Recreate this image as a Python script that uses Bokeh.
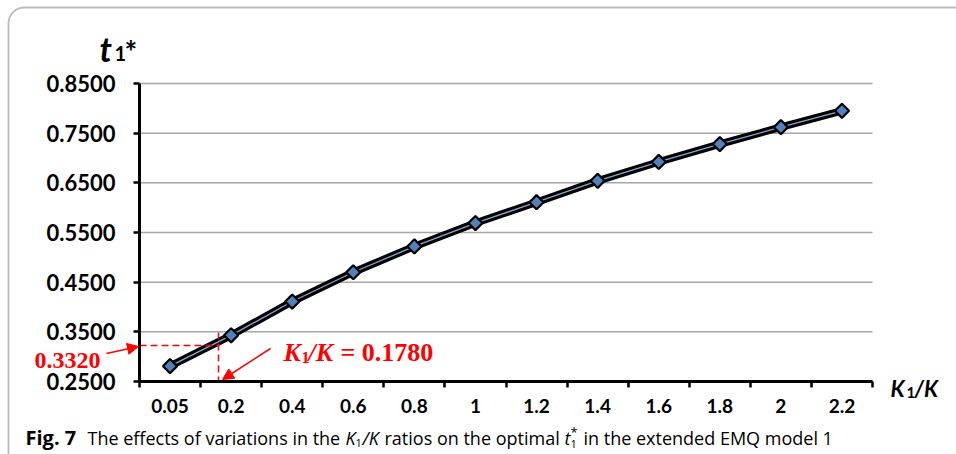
from bokeh.plotting import figure
from bokeh.models import (FixedTicker, Label, Arrow, NormalHead, BoxAnnotation,
                          Range1d, PrintfTickFormatter, LinearAxis)
from bokeh.embed import file_html
from bokeh.resources import INLINE

# ---------------- data ----------------
ratio_labels = ["0.05", "0.2", "0.4", "0.6", "0.8", "1", "1.2", "1.4", "1.6", "1.8", "2", "2.2"]
t1_values = [0.281, 0.343, 0.411, 0.470, 0.522, 0.569, 0.611, 0.654, 0.692, 0.728, 0.762, 0.795]
y_ticks = [0.25, 0.35, 0.45, 0.55, 0.65, 0.75, 0.85]
opt_ratio_text = "0.1780"
opt_t1_text = "0.3320"

# ---------------- layout ----------------
W, H = 956, 454
L, R, T, B = 139, 872, 83, 381          # pixel box of the chart area
N = len(ratio_labels)
XMIN, XMAX = -0.5, N - 0.5
YMIN, YMAX = y_ticks[0], y_ticks[-1]


def dx(px):
    return XMIN + (px - L) / (R - L) * (XMAX - XMIN)


def dy(py):
    return YMIN + (B - py) / (B - T) * (YMAX - YMIN)


xs = list(range(N))

p = figure(width=W, height=H, x_range=Range1d(dx(0), dx(W)), y_range=Range1d(dy(H), dy(0)),
           output_backend="svg", toolbar_location=None, x_axis_location=None, y_axis_location=None,
           min_border_left=0, min_border_right=0, min_border_top=0, min_border_bottom=0)
p.outline_line_color = None
p.background_fill_color = "white"
p.border_fill_color = "white"
p.xgrid.visible = False
p.ygrid.visible = False

# horizontal gridlines (drawn from the tick values)
p.segment(x0=[XMIN] * len(y_ticks), y0=y_ticks, x1=[XMAX] * len(y_ticks), y1=y_ticks,
          line_color="#a6a6a6", line_width=1.5)

# x axis
xaxis = LinearAxis(fixed_location=YMIN, bounds=(XMIN, XMAX))
xaxis.ticker = FixedTicker(ticks=xs, minor_ticks=[i - 0.5 for i in range(N + 1)])
xaxis.major_label_overrides = {i: lab for i, lab in enumerate(ratio_labels)}
xaxis.major_tick_line_color = None
xaxis.minor_tick_line_color = "black"
xaxis.minor_tick_line_width = 2.5
xaxis.minor_tick_out = 6
xaxis.minor_tick_in = 0
xaxis.axis_line_width = 3
xaxis.axis_line_color = "black"
xaxis.major_label_text_font = "Lato"
xaxis.major_label_text_font_style = "bold"
xaxis.major_label_text_font_size = "19px"
xaxis.major_label_text_color = "black"
xaxis.major_label_standoff = 11
p.add_layout(xaxis, "below")

# y axis
yaxis = LinearAxis(fixed_location=XMIN, bounds=(YMIN, YMAX))
yaxis.ticker = FixedTicker(ticks=y_ticks)
yaxis.formatter = PrintfTickFormatter(format="%.4f")
yaxis.major_tick_out = 6
yaxis.major_tick_in = 0
yaxis.major_tick_line_width = 2.5
yaxis.minor_tick_line_color = None
yaxis.axis_line_width = 3
yaxis.axis_line_color = "black"
yaxis.major_label_text_font = "Lato"
yaxis.major_label_text_font_style = "bold"
yaxis.major_label_text_font_size = "22px"
yaxis.major_label_text_color = "black"
yaxis.major_label_standoff = 18
p.add_layout(yaxis, "left")

# series
p.line(xs, t1_values, line_color="black", line_width=7.5)
p.line(xs, t1_values, line_color="#8aa6cf", line_width=1.3)
p.scatter(xs, t1_values, marker="square", angle=0.785398, size=10,
          fill_color="#4f81bd", line_color="black", line_width=2.2)

# red annotation lines
p.segment(x0=[dx(139)], y0=[dy(345)], x1=[dx(218)], y1=[dy(345)],
          line_color="red", line_width=1.5, line_dash="7 4")
p.segment(x0=[dx(218)], y0=[dy(332)], x1=[dx(218)], y1=[dy(381)],
          line_color="red", line_width=1.5, line_dash="7 4")

p.add_layout(Arrow(x_start=dx(106), y_start=dy(353), x_end=dx(138), y_end=dy(346),
                   line_color="red", line_width=1.5,
                   end=NormalHead(size=11, fill_color="red", line_color="red")))
p.add_layout(Arrow(x_start=dx(270), y_start=dy(348), x_end=dx(222), y_end=dy(379),
                   line_color="red", line_width=1.5,
                   end=NormalHead(size=11, fill_color="red", line_color="red")))


def lab(text, px, py, size, font="Lato", style="normal", color="black", align="left"):
    p.add_layout(Label(x=dx(px), y=dy(py), text=text, text_font=font, text_font_style=style,
                       text_font_size=size, text_color=color, text_align=align,
                       text_baseline="alphabetic"))


SERIF = "Liberation Serif"
# red texts
lab(opt_t1_text, 34, 360, "24px", SERIF, "bold", "red")
lab("K", 283, 352, "26px", SERIF, "bold italic", "red")
lab("1", 301, 357, "16px", SERIF, "bold", "red")
lab("/K", 308, 352, "26px", SERIF, "bold italic", "red")
lab("= " + opt_ratio_text, 340, 352, "26px", SERIF, "bold", "red")

# y title t1*
lab("t", 99, 48, "34px", "Lato", "bold italic")
lab("1", 114, 53, "20px", "Lato", "bold")
lab("*", 124, 50, "30px", "Lato", "bold")

# x title K1/K
lab("K", 890, 388, "22px", "Lato", "bold italic")
lab("1", 906, 392, "15px", "Lato", "bold")
lab("/K", 914, 388, "22px", "Lato", "bold italic")

# caption
CAP = "Open Sans"
lab("Fig. 7", 25, 437, "20px", CAP, "bold")
lab("The effects of variations in the", 87, 437, "18px", CAP)
lab("K", 345, 437, "18px", CAP, "italic")
lab("1", 355, 442, "11px", CAP)
lab("/K", 362, 437, "18px", CAP, "italic")
lab("ratios on the optimal", 384, 437, "18px", CAP)
lab("t", 564, 437, "18px", CAP, "italic")
lab("*", 570, 431, "13px", CAP)
lab("1", 570, 443, "11px", CAP)
lab("in the extended EMQ model 1", 583, 437, "18px", CAP)

# rounded outer frame
p.add_layout(BoxAnnotation(left=dx(8), right=dx(1000), top=dy(7), bottom=dy(470),
                           fill_alpha=0, line_color="#222222", line_width=1.8,
                           border_radius=16))

open("out.html", "w").write(file_html(p, INLINE))
